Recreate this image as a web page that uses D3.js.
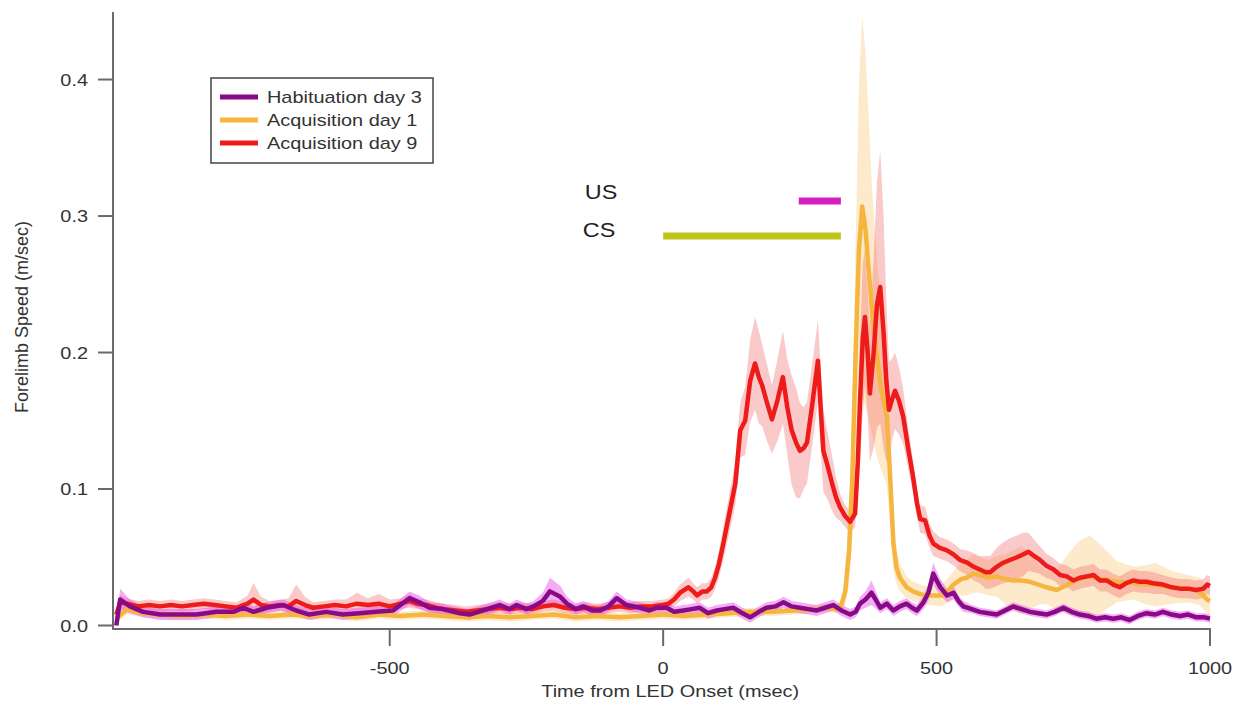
<!DOCTYPE html>
<html><head><meta charset="utf-8">
<script src="https://cdn.jsdelivr.net/npm/d3@7"></script>
<style>body{margin:0;background:#fff;} text{font-family:"Liberation Sans",Arial,sans-serif;}</style>
</head><body><svg id="c" width="1238" height="707"></svg>
<script>
// ---------- DATA ----------
const seriesNames = ["Habituation day 3", "Acquisition day 1", "Acquisition day 9"];
const xTicks = [-500, 0, 500, 1000];
const yTicks = [0.0, 0.1, 0.2, 0.3, 0.4];
const csInterval = [0, 325];
const usInterval = [248, 325];

// Habituation day 3
const habT = [-1000,-993,-975,-951,-920,-890,-853,-817,-786,-768, -749,-725,-695,-671,-647,-616,-586,-555,-525,-494, -464,-446,-427,-403,-372,-354,-330,-299,-281,-268, -250,-237,-220,-207,-188,-176,-160,-146,-130,-115, -100,-85,-67,-42,-25,-12,6,20,37,52, 67,82,98,113,128,145,159,175,189,205, 220,235,250,265,281,296,311,326,342,352, 360,370,381,390,397,409,421,433,445,455, 464,476,485,494,500,507,519,531,540,549, 564,579,595,610,625,640,655,671,686,701, 716,732,747,762,777,792,808,823,838,853, 868,884,899,914,930,945,960,975,990,1000];
const habV = [0.000,0.019,0.014,0.010,0.008,0.008,0.008,0.010,0.010,0.013, 0.010,0.013,0.015,0.011,0.008,0.010,0.008,0.009,0.010,0.011, 0.020,0.017,0.013,0.012,0.009,0.008,0.011,0.015,0.012,0.015, 0.012,0.014,0.018,0.025,0.021,0.016,0.012,0.014,0.011,0.011, 0.014,0.020,0.015,0.013,0.011,0.013,0.013,0.010,0.011,0.012, 0.013,0.009,0.011,0.012,0.013,0.009,0.006,0.010,0.013,0.014, 0.017,0.014,0.013,0.012,0.011,0.013,0.015,0.011,0.008,0.010, 0.016,0.019,0.024,0.018,0.013,0.016,0.011,0.014,0.016,0.013, 0.011,0.017,0.024,0.038,0.033,0.028,0.022,0.024,0.018,0.014, 0.012,0.010,0.009,0.008,0.011,0.014,0.012,0.010,0.009,0.008, 0.010,0.013,0.010,0.008,0.007,0.005,0.006,0.005,0.006,0.004, 0.007,0.009,0.008,0.010,0.008,0.007,0.008,0.006,0.006,0.005];
const habE = [0.002,0.008,0.005,0.004,0.004,0.004,0.004,0.004,0.004,0.004, 0.004,0.004,0.004,0.004,0.004,0.004,0.004,0.004,0.004,0.004, 0.005,0.005,0.004,0.004,0.004,0.004,0.004,0.004,0.004,0.004, 0.004,0.004,0.006,0.010,0.008,0.005,0.004,0.004,0.004,0.004, 0.004,0.005,0.004,0.004,0.004,0.004,0.004,0.004,0.004,0.004, 0.004,0.004,0.004,0.004,0.004,0.004,0.004,0.004,0.004,0.004, 0.004,0.004,0.004,0.004,0.004,0.004,0.004,0.004,0.004,0.004, 0.005,0.006,0.009,0.006,0.004,0.004,0.004,0.004,0.004,0.004, 0.004,0.005,0.006,0.008,0.007,0.006,0.005,0.005,0.004,0.004, 0.003,0.003,0.003,0.003,0.003,0.003,0.003,0.003,0.003,0.003, 0.003,0.003,0.003,0.003,0.003,0.003,0.003,0.003,0.003,0.003, 0.003,0.003,0.003,0.003,0.003,0.003,0.003,0.003,0.003,0.003];

// Acquisition day 1
const acq1T = [-1000,-980,-950,-920,-880,-840,-800,-760,-720,-680, -640,-600,-560,-520,-480,-440,-400,-360,-320,-280, -240,-200,-160,-120,-80,-40,0,40,80,120, 160,200,240,280,300,315,325,333,340,346, 352,358,364,370,376,382,390,398,409,415, 421,427,433,445,457,470,482,495,510,522, 531,545,555,567,579,595,610,625,640,655, 671,686,701,720,740,760,780,800,830,860, 880,900,930,960,980,995,1000];
const acq1V = [0.005,0.012,0.009,0.008,0.007,0.008,0.007,0.008,0.007,0.008, 0.007,0.008,0.006,0.008,0.007,0.008,0.007,0.006,0.007,0.006, 0.007,0.008,0.006,0.007,0.006,0.007,0.008,0.007,0.008,0.009, 0.010,0.010,0.011,0.012,0.013,0.012,0.014,0.025,0.055,0.110, 0.200,0.275,0.307,0.290,0.260,0.230,0.200,0.175,0.153,0.110, 0.060,0.042,0.035,0.028,0.025,0.023,0.022,0.022,0.022,0.026, 0.030,0.034,0.035,0.038,0.037,0.035,0.036,0.034,0.033,0.033, 0.032,0.030,0.028,0.026,0.030,0.034,0.036,0.034,0.032,0.031, 0.030,0.030,0.028,0.027,0.025,0.019,0.018];
const acq1E = [0.003,0.004,0.003,0.003,0.003,0.003,0.003,0.003,0.003,0.003, 0.003,0.003,0.003,0.003,0.003,0.003,0.003,0.003,0.003,0.003, 0.003,0.003,0.003,0.003,0.003,0.003,0.003,0.003,0.003,0.003, 0.003,0.003,0.003,0.003,0.003,0.003,0.004,0.010,0.025,0.045, 0.080,0.120,0.140,0.130,0.110,0.090,0.075,0.060,0.050,0.035, 0.020,0.012,0.010,0.008,0.007,0.007,0.007,0.007,0.008,0.009, 0.010,0.012,0.013,0.014,0.013,0.013,0.015,0.018,0.022,0.025, 0.020,0.015,0.012,0.015,0.022,0.028,0.030,0.025,0.015,0.012, 0.014,0.016,0.012,0.010,0.010,0.010,0.010];

// Acquisition day 9
const acq9T = [-1000,-993,-980,-960,-940,-920,-900,-880,-860,-840, -820,-800,-780,-760,-749,-735,-720,-700,-685,-671, -655,-640,-620,-600,-580,-560,-540,-520,-500,-480, -464,-450,-433,-415,-400,-380,-360,-340,-320,-300, -280,-260,-240,-220,-200,-180,-160,-140,-120,-100, -80,-60,-40,-20,0,10,20,31,46,55, 62,72,80,88,95,102,110,120,132,141, 150,159,168,175,181,190,199,209,219,227, 235,243,250,257,263,272,283,288,293,300, 309,316,323,333,342,351,356,360,365,369, 374,378,385,391,397,403,408,413,418,424, 431,439,448,457,464,470,479,487,494,505, 519,531,543,556,568,579,590,598,610,622, 634,647,658,668,678,689,700,714,726,738, 750,762,775,787,799,811,823,835,847,860, 872,884,896,914,930,945,960,975,988,995, 1000];
const acq9V = [0.008,0.017,0.016,0.014,0.015,0.014,0.015,0.014,0.015,0.016, 0.015,0.014,0.013,0.016,0.019,0.015,0.014,0.015,0.014,0.018, 0.015,0.013,0.014,0.015,0.014,0.016,0.015,0.016,0.014,0.016, 0.018,0.016,0.015,0.013,0.012,0.011,0.010,0.011,0.012,0.013, 0.012,0.013,0.012,0.014,0.015,0.013,0.012,0.013,0.012,0.013, 0.014,0.013,0.014,0.014,0.015,0.016,0.019,0.024,0.028,0.025, 0.022,0.025,0.025,0.028,0.035,0.045,0.060,0.080,0.104,0.143, 0.150,0.179,0.192,0.182,0.176,0.163,0.151,0.165,0.182,0.160, 0.143,0.134,0.128,0.130,0.134,0.160,0.194,0.160,0.128,0.118, 0.104,0.094,0.087,0.080,0.076,0.082,0.120,0.164,0.210,0.226, 0.200,0.170,0.200,0.235,0.248,0.215,0.180,0.158,0.165,0.172, 0.165,0.153,0.130,0.109,0.090,0.078,0.077,0.066,0.060,0.057, 0.055,0.052,0.048,0.046,0.043,0.041,0.039,0.039,0.043,0.046, 0.048,0.050,0.052,0.054,0.051,0.048,0.044,0.041,0.037,0.036, 0.033,0.035,0.036,0.037,0.033,0.033,0.030,0.028,0.031,0.033, 0.032,0.032,0.031,0.030,0.028,0.027,0.027,0.026,0.027,0.030, 0.029];
const acq9E = [0.003,0.005,0.004,0.004,0.004,0.004,0.004,0.004,0.004,0.004, 0.004,0.004,0.004,0.006,0.012,0.006,0.004,0.004,0.006,0.012, 0.006,0.004,0.004,0.004,0.005,0.008,0.005,0.007,0.005,0.004, 0.005,0.004,0.004,0.004,0.004,0.004,0.004,0.004,0.004,0.004, 0.004,0.004,0.004,0.004,0.004,0.004,0.004,0.004,0.004,0.004, 0.004,0.004,0.004,0.004,0.004,0.004,0.005,0.006,0.007,0.006, 0.006,0.006,0.006,0.007,0.008,0.010,0.012,0.014,0.016,0.020, 0.025,0.030,0.034,0.034,0.030,0.028,0.025,0.030,0.034,0.035, 0.040,0.040,0.035,0.030,0.030,0.030,0.030,0.030,0.030,0.025, 0.020,0.015,0.010,0.008,0.008,0.010,0.025,0.045,0.055,0.050, 0.045,0.050,0.070,0.090,0.100,0.085,0.060,0.035,0.030,0.028, 0.025,0.020,0.015,0.012,0.010,0.010,0.010,0.009,0.009,0.008, 0.008,0.008,0.008,0.009,0.010,0.010,0.012,0.012,0.014,0.015, 0.016,0.016,0.016,0.014,0.012,0.010,0.009,0.008,0.008,0.008, 0.008,0.008,0.008,0.008,0.008,0.008,0.008,0.008,0.008,0.008, 0.008,0.008,0.008,0.007,0.007,0.007,0.007,0.007,0.007,0.007, 0.007];

// ---------- CHART ----------
const svg = d3.select("#c");
const x = d3.scaleLinear().domain([-1000, 1000]).range([116.3, 1210]);
const y = d3.scaleLinear().domain([0, 0.45]).range([625.5, 11.3]);
const axisX = 113, axisY = 629;
const axisColor = "#6a6a6a", textColor = "#333";
const SX = 1.17; // horizontal stretch of the reference text

function txt(parent, px, py, s, size, anchor, color) {
  return parent.append("text")
    .attr("transform", `translate(${px},${py}) scale(${SX},1)`)
    .attr("text-anchor", anchor || "start")
    .attr("font-size", size).attr("fill", color || textColor).text(s);
}

svg.append("defs").append("clipPath").attr("id","plot")
  .append("rect").attr("x", axisX).attr("y", 10).attr("width", 1212 - axisX).attr("height", axisY - 10);

const styles = [
  {band:"rgba(230,70,230,0.45)", line:"#870b87"},
  {band:"rgba(250,205,130,0.42)", line:"#f6b53f"},
  {band:"rgba(240,100,100,0.35)", line:"#ee1b1b"}
];
const data = [
  habT.map((t,i)=>({t, v:habV[i], e:habE[i]})),
  acq1T.map((t,i)=>({t, v:acq1V[i], e:acq1E[i]})),
  acq9T.map((t,i)=>({t, v:acq9V[i], e:acq9E[i]}))
];
const area = d3.area().x(d=>x(d.t)).y0(d=>y(Math.max(0,d.v-d.e))).y1(d=>y(d.v+d.e));
const line = d3.line().x(d=>x(d.t)).y(d=>y(d.v));
const g = svg.append("g").attr("clip-path","url(#plot)");
const order = [1,2,0];
order.forEach(i => g.append("path").attr("d", area(data[i])).attr("fill", styles[i].band));
order.forEach(i => g.append("path").attr("d", line(data[i])).attr("fill","none")
  .attr("stroke", styles[i].line).attr("stroke-width", 4.5).attr("stroke-linejoin","round"));

// axes
svg.append("line").attr("x1",axisX).attr("x2",axisX).attr("y1",12).attr("y2",axisY+1)
  .attr("stroke",axisColor).attr("stroke-width",2);
svg.append("line").attr("x1",axisX).attr("x2",x(1000)+1).attr("y1",axisY).attr("y2",axisY)
  .attr("stroke",axisColor).attr("stroke-width",2);
yTicks.forEach(v=>{
  svg.append("line").attr("x1",axisX-15).attr("x2",axisX).attr("y1",y(v)).attr("y2",y(v))
    .attr("stroke",axisColor).attr("stroke-width",2);
  txt(svg, axisX-25, y(v)+6, d3.format(".1f")(v), 17, "end");
});
xTicks.forEach(v=>{
  svg.append("line").attr("x1",x(v)).attr("x2",x(v)).attr("y1",axisY).attr("y2",axisY+17)
    .attr("stroke",axisColor).attr("stroke-width",2);
  txt(svg, x(v), axisY+45, String(v), 17, "middle");
});
txt(svg, x(0)+7, 697, "Time from LED Onset (msec)", 17, "middle");
svg.append("text").attr("transform","translate(28,317) rotate(-90)").attr("text-anchor","middle")
  .attr("font-size",18).attr("fill",textColor).text("Forelimb Speed (m/sec)");

// CS / US bars
svg.append("line").attr("x1",x(csInterval[0])).attr("x2",x(csInterval[1])).attr("y1",236).attr("y2",236)
  .attr("stroke","#bfc41a").attr("stroke-width",7).attr("stroke-linecap","butt");
svg.append("line").attr("x1",x(usInterval[0])).attr("x2",x(usInterval[1])).attr("y1",201).attr("y2",201)
  .attr("stroke","#d61fc0").attr("stroke-width",7).attr("stroke-linecap","butt");
txt(svg, 601, 199, "US", 20, "middle", "#222");
txt(svg, 599, 237, "CS", 20, "middle", "#222");

// legend
const lg = svg.append("g");
lg.append("rect").attr("x",211).attr("y",78).attr("width",222).attr("height",85)
  .attr("fill","#fff").attr("stroke","#444").attr("stroke-width",1.5);
seriesNames.forEach((n,i)=>{
  const yy = 97 + i*23;
  lg.append("line").attr("x1",220).attr("x2",258).attr("y1",yy).attr("y2",yy)
    .attr("stroke",styles[i].line).attr("stroke-width",5);
  txt(lg, 267, yy+6, n, 17, "start");
});
</script></body></html>
